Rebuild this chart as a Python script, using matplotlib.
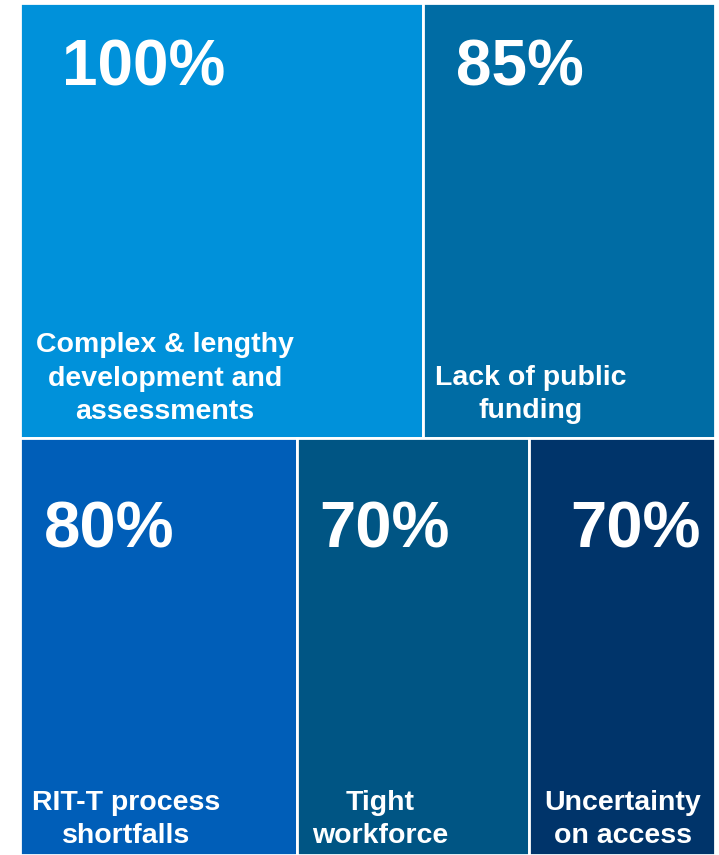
import matplotlib
matplotlib.use("Agg")
import matplotlib.pyplot as plt
from matplotlib.patches import Rectangle
from matplotlib import font_manager

# ---- data ----
categories = ["Complex & lengthy\ndevelopment and\nassessments",
              "Lack of public\nfunding",
              "RIT-T process\nshortfalls",
              "Tight\nworkforce",
              "Uncertainty\non access"]
values = [100, 85, 80, 70, 70]
value_labels = ["100%", "85%", "80%", "70%", "70%"]

# ---- layout (pixel frame) ----
W, H = 719, 855
x0, x1, y0, y1 = 20, 715, 3, 855
top_frac = 0.51
row_members = [[0, 1], [2, 3, 4]]
col_fracs = [[0.58, 0.42], [0.3986, 0.3338, 0.2676]]
colors = ["#0091DA", "#006CA4", "#005EB8", "#005584", "#00346A"]
num_dx = [42, 33, 24, 22, 41]
num_base = [85, 85, 547, 547, 547]
num_size = [46, 46, 47, 47, 47]
label_cx = [165, 531, 126, 380, 623]
label_base = [419, 418, 843, 843, 843]

names = {f.name for f in font_manager.fontManager.ttflist}
base_font = "Liberation Sans" if "Liberation Sans" in names else "DejaVu Sans"

fig = plt.figure(figsize=(W / 100, H / 100), dpi=100)
ax = fig.add_axes([0, 0, 1, 1])
ax.set_xlim(0, W)
ax.set_ylim(H, 0)
ax.axis("off")

row_h = [(y1 - y0) * top_frac, (y1 - y0) * (1 - top_frac)]
ry = y0
for r, members in enumerate(row_members):
    cx = x0
    for k, idx in enumerate(members):
        w = (x1 - x0) * col_fracs[r][k]
        ax.add_patch(Rectangle((cx, ry), w, row_h[r], facecolor=colors[idx],
                               edgecolor="white", linewidth=2))
        ax.text(cx + num_dx[idx], num_base[idx], value_labels[idx], color="white",
                fontsize=num_size[idx], fontweight="bold", family=base_font,
                ha="left", va="baseline")
        ax.text(label_cx[idx], label_base[idx], categories[idx], color="white",
                fontsize=20.5, fontweight="bold", family=base_font,
                ha="center", va="baseline", linespacing=1.37,
                multialignment="center")
        cx += w
    ry += row_h[r]

fig.savefig("out.png", dpi=100)
